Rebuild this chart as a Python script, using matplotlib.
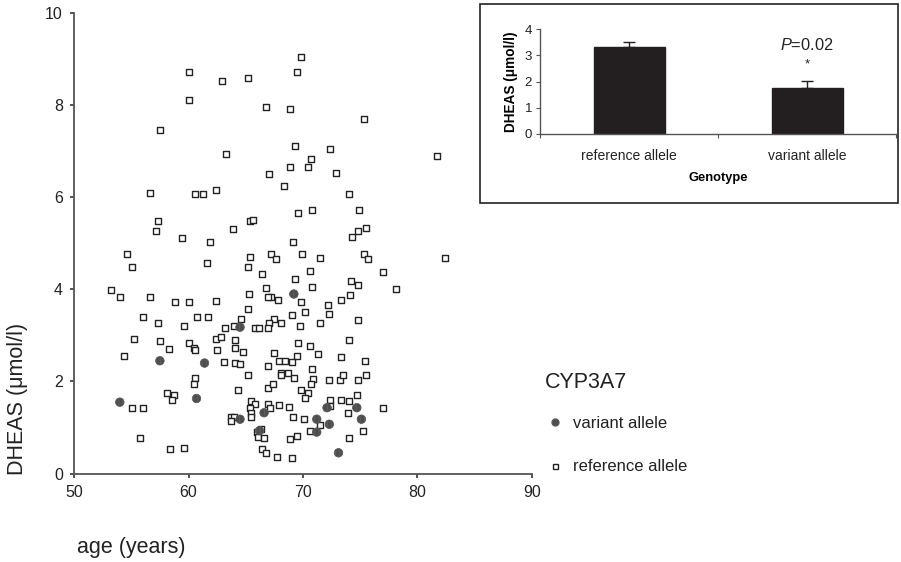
import matplotlib
matplotlib.use("Agg")
import matplotlib.pyplot as plt
from matplotlib.lines import Line2D
from matplotlib.patches import Rectangle

plt.rcParams['font.family'] = ['Liberation Sans', 'DejaVu Sans']
plt.rcParams['mathtext.fontset'] = 'custom'
plt.rcParams['mathtext.it'] = 'Liberation Sans:italic'
plt.rcParams['mathtext.rm'] = 'Liberation Sans'

# reference allele carriers: age (years), DHEAS (umol/l)
ref_age = [69.8, 60.0, 69.5, 62.9, 65.2, 60.0, 66.8, 68.9, 75.3, 57.5,
           69.3, 72.4, 63.3, 70.7, 68.9, 70.4, 67.0, 72.9, 68.3, 56.6,
           60.6, 61.3, 62.4, 74.0, 69.6, 70.8, 74.9, 57.3, 57.2, 65.4,
           65.6, 63.9, 59.4, 61.9, 69.1, 74.3, 74.8, 75.5, 54.6, 65.4,
           67.2, 67.6, 69.9, 71.5, 75.3, 75.7, 81.7, 82.4,
           70.6, 77.0, 69.3, 74.2, 74.8, 78.1, 70.8, 67.2, 67.8, 69.8,
           72.2, 73.3, 74.1, 69.0, 70.2, 72.3, 67.5, 67.0, 68.1, 69.7,
           71.5, 74.8, 55.1, 61.6, 65.2, 66.4, 53.2, 54.0, 56.6, 58.8,
           60.0, 62.4, 65.3, 66.8, 66.9, 65.2, 56.0, 57.3, 59.6, 60.7,
           61.7, 64.6, 63.2, 64.0, 65.8, 66.2, 66.9,
           55.2, 54.4, 57.5, 58.3, 60.0, 60.5, 60.6, 62.4, 62.8, 62.5,
           63.1, 64.1, 64.1, 64.8, 64.1, 64.5, 65.2, 66.9, 60.6, 60.5,
           64.3, 66.9, 58.1, 58.7, 58.6, 55.1, 56.0, 65.5, 65.8, 65.4,
           65.5, 65.5, 66.9, 67.1, 63.7, 64.0, 63.7, 55.8, 66.0, 66.3,
           66.1, 66.6, 58.4, 59.6, 66.4, 66.8,
           74.0, 69.6, 70.6, 71.3, 67.5, 69.5, 73.3, 75.4, 67.9, 68.4,
           69.0, 70.8, 68.1, 68.1, 68.7, 69.2, 70.9, 67.4, 70.7, 72.3,
           73.2, 73.5, 74.8, 75.5, 69.8, 70.4, 70.2, 74.7, 72.4, 73.3,
           74.0, 67.9, 68.8, 72.4, 77.0, 73.9, 69.1, 70.1, 71.5, 70.6,
           75.2, 69.5, 68.9, 74.0, 67.7, 69.0]
ref_dheas = [9.05, 8.73, 8.73, 8.53, 8.59, 8.11, 7.97, 7.92, 7.71, 7.46,
             7.12, 7.06, 6.95, 6.84, 6.67, 6.67, 6.50, 6.53, 6.24, 6.10,
             6.08, 6.08, 6.16, 6.08, 5.65, 5.73, 5.73, 5.48, 5.28, 5.48,
             5.51, 5.31, 5.11, 5.03, 5.03, 5.14, 5.28, 5.34, 4.77, 4.71,
             4.77, 4.66, 4.77, 4.68, 4.77, 4.66, 6.89, 4.68,
             4.40, 4.37, 4.23, 4.18, 4.09, 4.00, 4.06, 3.84, 3.76, 3.72,
             3.67, 3.76, 3.87, 3.44, 3.50, 3.47, 3.36, 3.27, 3.27, 3.21,
             3.27, 3.33, 4.49, 4.58, 4.49, 4.34, 3.98, 3.84, 3.84, 3.72,
             3.72, 3.75, 3.90, 4.04, 3.84, 3.58, 3.41, 3.27, 3.21, 3.41,
             3.41, 3.35, 3.17, 3.21, 3.17, 3.17, 3.17,
             2.93, 2.56, 2.87, 2.71, 2.84, 2.72, 2.68, 2.93, 2.96, 2.68,
             2.42, 2.90, 2.73, 2.65, 2.40, 2.37, 2.14, 2.34, 2.08, 1.95,
             1.82, 1.86, 1.75, 1.71, 1.60, 1.43, 1.43, 1.58, 1.50, 1.43,
             1.32, 1.22, 1.51, 1.43, 1.22, 1.23, 1.15, 0.78, 0.90, 0.97,
             0.80, 0.78, 0.53, 0.55, 0.53, 0.44,
             2.90, 2.84, 2.76, 2.59, 2.62, 2.56, 2.54, 2.45, 2.45, 2.45,
             2.42, 2.28, 2.19, 2.13, 2.19, 2.08, 2.05, 1.95, 1.94, 2.03,
             2.03, 2.14, 2.03, 2.14, 1.82, 1.74, 1.63, 1.71, 1.60, 1.60,
             1.57, 1.48, 1.45, 1.47, 1.43, 1.32, 1.23, 1.18, 1.06, 0.92,
             0.92, 0.81, 0.75, 0.78, 0.35, 0.33]

# variant allele carriers
var_age = [54.0, 57.5, 60.7, 61.4, 64.5, 64.5, 66.6, 66.2, 69.2, 72.1,
           74.7, 71.2, 72.3, 71.2, 75.1, 73.1]
var_dheas = [1.55, 2.45, 1.63, 2.40, 3.18, 1.18, 1.32, 0.93, 3.90, 1.43,
             1.43, 1.18, 1.07, 0.90, 1.18, 0.45]

# inset bar chart
genotypes = ['reference allele', 'variant allele']
mean_dheas = [3.33, 1.77]
sem_dheas = [0.17, 0.25]

W, H = 901, 562
fig = plt.figure(figsize=(9.01, 5.62), dpi=100)

ax = fig.add_axes([74 / W, 1 - 473.5 / H, 458 / W, 460.2 / H])
ax.scatter(ref_age, ref_dheas, marker='s', s=20, facecolors='white',
           edgecolors='#222222', linewidths=1.0, zorder=3)
ax.scatter(var_age, var_dheas, marker='o', s=38, facecolors='#4d4d4d',
           edgecolors='#5a5a5a', linewidths=0.5, hatch='||||', zorder=4)
ax.set_xlim(50, 90)
ax.set_ylim(0, 10)
ax.set_xticks([50, 60, 70, 80, 90])
ax.set_yticks([0, 2, 4, 6, 8, 10])
for s in ['top', 'right']:
    ax.spines[s].set_visible(False)
for s in ['left', 'bottom']:
    ax.spines[s].set_color('#555555')
    ax.spines[s].set_linewidth(1.3)
ax.tick_params(axis='both', length=3, width=1.2, color='#333333',
               labelsize=11.5, labelcolor='#222222', pad=5)

fig.text(18 / W, 1 - 399 / H, 'DHEAS (\u03bcmol/l)', rotation=90,
         ha='center', va='center', fontsize=15.5, color='#222222')
fig.text(131 / W, 1 - 547 / H, 'age (years)', ha='center', va='center',
         fontsize=15.5, color='#222222')

# legend (title drawn separately so its gap can be set)
fig.text(545 / W, 1 - 382 / H, 'CYP3A7', ha='left', va='center',
         fontsize=15.5, color='#222222')
handles = [Line2D([], [], ls='none', marker='o', ms=5, mfc='#4d4d4d',
                  mec='#5a5a5a'),
           Line2D([], [], ls='none', marker='s', ms=3.6, mfc='white',
                  mec='#222222', mew=1.0)]
leg = fig.legend(handles, ['variant allele', 'reference allele'],
                 loc='upper left', bbox_to_anchor=(545 / W, 1 - 416 / H),
                 frameon=False, fontsize=12, labelspacing=1.7,
                 handletextpad=0.5, handlelength=1.2, borderpad=0,
                 borderaxespad=0)
for t in leg.get_texts():
    t.set_color('#222222')

# inset frame
fig.patches.append(Rectangle((480 / W, 1 - 203 / H), 418 / W, 199 / H,
                             transform=fig.transFigure, facecolor='white',
                             edgecolor='#222222', linewidth=1.2, zorder=1))

ax2 = fig.add_axes([540.3 / W, 1 - 134 / H, 355.7 / W, 104.7 / H])
ax2.set_zorder(3)
ax2.patch.set_alpha(0)
xs = range(len(genotypes))
ax2.bar(xs, mean_dheas, width=0.4, color='#231f20', edgecolor='#231f20')
ax2.errorbar(xs, mean_dheas, yerr=[[0, 0], sem_dheas], fmt='none',
             ecolor='#231f20', elinewidth=1.0, capsize=4, capthick=1.0)
ax2.set_xlim(-0.5, 1.5)
ax2.set_ylim(0, 4)
ax2.set_yticks([0, 1, 2, 3, 4])
ax2.set_xticks([-0.5, 0.5, 1.5])
ax2.set_xticklabels([])
ax2.set_xticks(list(xs), minor=True)
ax2.set_xticklabels(genotypes, minor=True)
ax2.tick_params(axis='x', which='minor', length=0, labelsize=10, pad=11,
                labelcolor='#222222')
ax2.tick_params(axis='x', which='major', length=3, color='#555555')
ax2.tick_params(axis='y', length=3, labelsize=9.5, color='#555555',
                labelcolor='#222222', pad=3)
for s in ['top', 'right']:
    ax2.spines[s].set_visible(False)
for s in ['left', 'bottom']:
    ax2.spines[s].set_color('#555555')
    ax2.spines[s].set_linewidth(1.0)
ax2.set_xlabel('Genotype', fontsize=9.3, fontweight='bold', labelpad=6)
ax2.set_ylabel('DHEAS (\u03bcmol/l)', fontsize=9.8, fontweight='bold',
               labelpad=5)
ax2.text(1, 3.4, '$P$=0.02', ha='center', va='center', fontsize=11.8,
         color='#222222')
ax2.text(1, 2.65, '*', ha='center', va='center', fontsize=9.5,
         color='#222222')

fig.savefig('out.png', dpi=100)
